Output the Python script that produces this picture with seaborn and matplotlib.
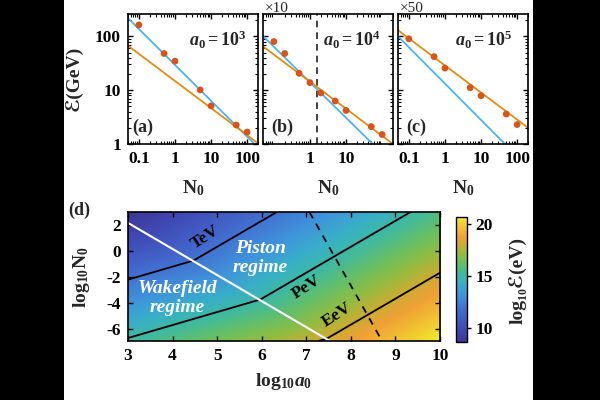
import numpy as np
import matplotlib
matplotlib.use('Agg')
import matplotlib.pyplot as plt
import seaborn as sns
from matplotlib.colors import LinearSegmentedColormap
from matplotlib.patches import Rectangle
from matplotlib.ticker import LogLocator, NullFormatter, FixedLocator

# ---------------- data ----------------
n0_a = [0.1, 0.5, 1, 5, 10, 50, 100]
e_a = [163, 48, 34.6, 10.1, 5.1, 2.25, 1.67]
n0_b = [0.1, 0.2, 0.5, 1, 2, 5, 10, 50, 100]
e_b = [80, 48, 20.6, 13.8, 8.9, 6.3, 4.2, 2.1, 1.5]
n0_c = [0.1, 0.5, 1, 5, 10, 50, 100]
e_c = [90, 42, 25.7, 11.1, 7.9, 3.6, 2.3]

# fitted scaling lines (end points, N0 and E)
wake_a_n, wake_a_e = [0.05, 160], [218, 1.0]
pist_a_n, pist_a_e = [0.05, 200], [67, 1.03]
wake_b_n, wake_b_e = [0.05, 55], [101, 1.0]
pist_b_n, pist_b_e = [0.05, 200], [65, 1.0]
wake_c_n, wake_c_e = [0.05, 46], [100, 1.0]
pist_c_n, pist_c_e = [0.05, 200], [130, 2.0]
boundary_b = 1.6

a0_labels = ['$\\mathit{a}_0 = 10^3$', '$\\mathit{a}_0 = 10^4$', '$\\mathit{a}_0 = 10^5$']
panel_labels = ['(a)', '(b)', '(c)']
scale_labels = ['', '\u00d710', '\u00d750']

# panel (d): scaling-law model of log10 E(eV)
wake_exp = 2.0 / 3.0
wake_const = 8.54
piston_exp = 1.0
piston_nexp = 0.5
piston_const = 7.17
loga_range = [3.0, 10.0]
logn_range = [-6.92, 3.02]
contour_levels = [12, 15, 18]
white_a, white_n = [3.0, 7.53], [2.18, -6.92]
dash_a, dash_n = [7.07, 8.70], [3.02, -6.92]

cmap_pos = [0.0, 0.12, 0.25, 0.38, 0.47, 0.55, 0.63, 0.70, 0.77, 0.84, 0.92, 1.0]
cmap_rgb = [(0.24, 0.21, 0.58), (0.25, 0.30, 0.72), (0.26, 0.42, 0.81), (0.25, 0.58, 0.86),
            (0.22, 0.69, 0.78), (0.25, 0.73, 0.62), (0.40, 0.75, 0.40), (0.56, 0.74, 0.26),
            (0.78, 0.68, 0.20), (0.94, 0.63, 0.21), (0.95, 0.77, 0.20), (0.94, 0.94, 0.16)]

# ---------------- style ----------------
sns.set_theme(style='ticks')
SERIF = ['Liberation Serif', 'DejaVu Serif', 'DejaVu Sans']
plt.rcParams.update({
    'font.family': SERIF,
    'font.weight': 'bold',
    'axes.unicode_minus': False,
    'mathtext.fontset': 'custom',
    'mathtext.rm': 'Liberation Serif:bold',
    'mathtext.it': 'Liberation Serif:italic:bold',
    'mathtext.bf': 'Liberation Serif:bold',
    'mathtext.default': 'rm',
    'axes.linewidth': 1.2,
    'xtick.direction': 'in', 'ytick.direction': 'in',
    'xtick.top': True, 'ytick.right': True,
    'xtick.major.size': 3.5, 'ytick.major.size': 3.5,
    'xtick.minor.size': 2, 'ytick.minor.size': 2,
    'xtick.major.width': 1.0, 'ytick.major.width': 1.0,
    'xtick.minor.width': 0.8, 'ytick.minor.width': 0.8,
    'xtick.color': 'black', 'ytick.color': 'black',
    'axes.edgecolor': 'black',
})

W, H = 600, 400
fig = plt.figure(figsize=(6, 4), dpi=100, facecolor='black')
fig.patches.append(Rectangle((64 / W, 0), (533 - 64) / W, 1, transform=fig.transFigure,
                             facecolor='white', edgecolor='none', zorder=-10))


def px_axes(x0, y0, x1, y1):
    return fig.add_axes([x0 / W, 1 - y1 / H, (x1 - x0) / W, (y1 - y0) / H])


c_dot = (0.85, 0.33, 0.10)
c_blue = (0.30, 0.70, 0.92)
c_orange = (0.87, 0.55, 0.08)

lefts = [128, 263, 398]
series = [(n0_a, e_a, wake_a_n, wake_a_e, pist_a_n, pist_a_e),
          (n0_b, e_b, wake_b_n, wake_b_e, pist_b_n, pist_b_e),
          (n0_c, e_c, wake_c_n, wake_c_e, pist_c_n, pist_c_e)]
a0_pos = [0.69, 0.68, 0.66]
letter_pos = [0.03, 0.06, 0.06]

for i, (x0, (nn, ee, wn, we, pn, pe)) in enumerate(zip(lefts, series)):
    ax = px_axes(x0, 14, x0 + 130, 144)
    ax.set_xscale('log')
    ax.set_yscale('log')
    ax.set_xlim(0.05, 200)
    ax.set_ylim(1, 260)
    sns.lineplot(x=wn, y=we, ax=ax, color=c_blue, lw=1.3, zorder=2)
    sns.lineplot(x=pn, y=pe, ax=ax, color=c_orange, lw=1.3, zorder=2)
    sns.scatterplot(x=nn, y=ee, ax=ax, color=c_dot, s=24, edgecolor='none', zorder=3)
    if i == 1:
        ax.axvline(boundary_b, color='#222222', lw=1.2, ls=(0, (4, 3)), zorder=1)
    ax.xaxis.set_major_locator(FixedLocator([0.1, 1, 10, 100] if i != 1 else [1, 10]))
    ax.xaxis.set_minor_locator(LogLocator(base=10, subs=np.arange(2, 10), numticks=20))
    ax.xaxis.set_minor_formatter(NullFormatter())
    ax.yaxis.set_major_locator(FixedLocator([1, 10, 100]))
    ax.yaxis.set_minor_locator(LogLocator(base=10, subs=np.arange(2, 10), numticks=20))
    ax.yaxis.set_minor_formatter(NullFormatter())
    ax.set_xticklabels(['0.1', '1', '10', '100'] if i != 1 else ['1', '10'])
    if i == 0:
        ax.set_yticklabels(['1', '10', '100'])
    else:
        ax.set_yticklabels([])
    ax.tick_params(axis='both', which='major', labelsize=12.5, pad=5)
    ax.tick_params(which='both', top=True, right=True)
    ax.set_xlabel('')
    ax.set_ylabel('')
    ax.text(a0_pos[i], 0.80, a0_labels[i], transform=ax.transAxes, ha='center', va='center',
            fontsize=13)
    ax.text(letter_pos[i], 0.13, panel_labels[i], transform=ax.transAxes, ha='left', va='center',
            fontsize=13, fontweight='bold')
    fig.text((x0 + 65) / W, 1 - 188 / H, '$\\mathrm{N}_0$', ha='center', va='center', fontsize=14)
    if scale_labels[i]:
        fig.text((x0 + 2) / W, 1 - 8 / H, scale_labels[i], ha='left', va='center', fontsize=11,
                 fontweight='normal')

fig.text(74 / W, 1 - 78 / H, '\u2130(GeV)', rotation=90, ha='center', va='center',
         fontsize=14, family=SERIF, fontweight='bold')

# ---------------- panel (d) ----------------
axd = px_axes(128, 212, 440, 341)
la = np.linspace(loga_range[0], loga_range[1], 351)
ln = np.linspace(logn_range[0], logn_range[1], 351)
LA, LN = np.meshgrid(la, ln)
field = np.maximum(wake_exp * (LA - LN) + wake_const,
                   piston_exp * LA - piston_nexp * LN + piston_const)
cmap = LinearSegmentedColormap.from_list('parula_like', list(zip(cmap_pos, cmap_rgb)))
im = axd.imshow(field, origin='lower', extent=[la[0], la[-1], ln[0], ln[-1]], aspect='auto',
                cmap=cmap, vmin=field.min(), vmax=field.max(), interpolation='bilinear')
axd.contour(LA, LN, field, levels=contour_levels, colors='black', linewidths=1.3)
sns.lineplot(x=white_a, y=white_n, ax=axd, color='white', lw=1.5)
axd.plot(dash_a, dash_n, color='black', lw=1.3, ls=(0, (4, 3.5)))
axd.set_xlim(loga_range)
axd.set_ylim(logn_range)
axd.set_xticks(range(3, 11))
axd.set_yticks([-6, -4, -2, 0, 2])
axd.tick_params(axis='both', labelsize=12.5, pad=5, top=True, right=True, length=3.5)
axd.set_xlabel('')
axd.set_ylabel('')

axd.text(4.73, 1.1, 'TeV', rotation=33, ha='center', va='center', fontsize=12.5, color='black')
axd.text(7.01, -2.75, 'PeV', rotation=33, ha='center', va='center', fontsize=12.5, color='black')
axd.text(7.69, -4.92, 'EeV', rotation=33, ha='center', va='center', fontsize=12.5, color='black')
axd.text(5.97, -0.55, 'Piston\nregime', ha='center', va='center', fontsize=14, color='white',
         style='italic', fontweight='bold', linespacing=1.15)
axd.text(4.1, -3.6, 'Wakefield\nregime', ha='center', va='center', fontsize=14, color='white',
         style='italic', fontweight='bold', linespacing=1.15)

fig.text(68 / W, 1 - 210 / H, '(d)', ha='left', va='center', fontsize=13)
fig.text(82 / W, 1 - 277 / H, '$\\mathrm{log}_{10}\\mathrm{N}_0$', rotation=90, ha='center',
         va='center', fontsize=14)
fig.text(284 / W, 1 - 382 / H, '$\\mathrm{log}_{10}\\mathit{a}_0$', ha='center', va='center',
         fontsize=14)

cax = px_axes(456, 217, 467, 342)
cb = fig.colorbar(im, cax=cax, ticks=[10, 15, 20])
cb.outline.set_linewidth(1.0)
cax.tick_params(labelsize=12.5, direction='out', length=3, pad=3)
fig.text(518 / W, 1 - 280 / H, 'log\u2081\u2080\u2130(eV)', rotation=90, ha='center',
         va='center', fontsize=14, family=SERIF, fontweight='bold')

fig.savefig('out.png', dpi=100, facecolor=fig.get_facecolor())
